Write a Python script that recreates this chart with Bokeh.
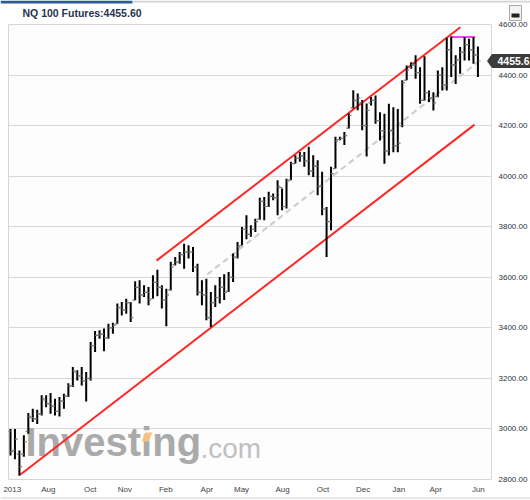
from bokeh.plotting import figure
from bokeh.models import Range1d, FixedTicker, PrintfTickFormatter, Label
from bokeh.core.properties import value
from bokeh.embed import file_html
from bokeh.resources import INLINE

# ---------------- data ----------------
title_text = "NQ 100 Futures:4455.60"
last_price = 4455.6

highs = [3000, 3000, 2915, 2975, 3063, 3080, 3076, 3133, 3133, 3142,
         3119, 3126, 3139, 3181, 3245, 3232, 3245, 3225, 3344, 3387,
         3390, 3397, 3416, 3420, 3496, 3502, 3515, 3502, 3584, 3588,
         3568, 3562, 3608, 3630, 3568, 3555, 3661, 3680, 3700, 3733,
         3727, 3720, 3654, 3588, 3594, 3542, 3568, 3601, 3612, 3621,
         3694, 3740, 3799, 3845, 3806, 3832, 3915, 3918, 3938, 3931,
         3984, 3951, 3990, 4057, 4083, 4096, 4096, 4116, 4083, 4063,
         4017, 3878, 4037, 4156, 4156, 4175, 4248, 4340, 4327, 4301,
         4287, 4313, 4319, 4253, 4247, 4286, 4273, 4266, 4379, 4438,
         4451, 4478, 4431, 4474, 4339, 4332, 4418, 4431, 4548, 4553,
         4478, 4511, 4550, 4544, 4550, 4513]
lows = [2895, 2880, 2815, 2890, 2981, 3027, 3020, 3053, 3086, 3060,
        3053, 3049, 3080, 3126, 3166, 3192, 3172, 3109, 3192, 3304,
        3357, 3307, 3357, 3377, 3416, 3449, 3456, 3423, 3509, 3496,
        3522, 3489, 3515, 3525, 3476, 3406, 3548, 3647, 3654, 3634,
        3674, 3621, 3528, 3489, 3430, 3403, 3482, 3496, 3510, 3542,
        3581, 3674, 3727, 3750, 3760, 3779, 3828, 3826, 3878, 3905,
        3845, 3865, 3872, 3984, 4050, 4057, 4037, 4004, 3997, 3925,
        3845, 3680, 3786, 4030, 4142, 4123, 4189, 4268, 4261, 4182,
        4078, 4280, 4207, 4141, 4049, 4082, 4095, 4095, 4194, 4379,
        4425, 4385, 4286, 4299, 4293, 4260, 4312, 4339, 4339, 4392,
        4365, 4405, 4458, 4458, 4445, 4392]
opens = [2990, 2915, 2900, 2900, 2990, 3045, 3040, 3060, 3115, 3100,
         3090, 3070, 3110, 3130, 3170, 3225, 3210, 3190, 3200, 3330,
         3370, 3375, 3360, 3400, 3415, 3480, 3470, 3500, 3510, 3560,
         3530, 3540, 3515, 3580, 3560, 3510, 3550, 3650, 3660, 3690,
         3700, 3700, 3640, 3540, 3530, 3440, 3500, 3520, 3560, 3545,
         3600, 3680, 3725, 3790, 3770, 3790, 3830, 3900, 3880, 3920,
         3915, 3955, 3880, 3985, 4050, 4070, 4080, 4060, 4020, 4040,
         3960, 3870, 3820, 4030, 4145, 4150, 4190, 4270, 4300, 4290,
         4200, 4290, 4300, 4220, 4180, 4100, 4180, 4120, 4200, 4380,
         4430, 4440, 4410, 4300, 4330, 4310, 4315, 4400, 4360, 4500,
         4440, 4460, 4490, 4520, 4500, 4480]
closes = [2910, 2960, 2850, 2950, 3050, 3040, 3060, 3120, 3100, 3090,
          3070, 3110, 3130, 3170, 3230, 3210, 3190, 3200, 3330, 3370,
          3375, 3360, 3400, 3410, 3480, 3470, 3500, 3440, 3560, 3530,
          3540, 3510, 3580, 3560, 3510, 3530, 3640, 3660, 3690, 3700,
          3700, 3640, 3540, 3530, 3440, 3500, 3520, 3560, 3540, 3600,
          3680, 3720, 3790, 3770, 3790, 3820, 3900, 3880, 3920, 3915,
          3960, 3880, 3980, 4050, 4070, 4080, 4060, 4020, 4040, 3960,
          3870, 3820, 4010, 4140, 4150, 4160, 4240, 4300, 4310, 4200,
          4260, 4300, 4220, 4180, 4100, 4180, 4120, 4130, 4370, 4420,
          4440, 4410, 4300, 4330, 4310, 4290, 4400, 4360, 4500, 4440,
          4460, 4490, 4520, 4500, 4480, 4455.6]

month_labels = ["2013", "Aug", "Oct", "Nov", "Feb", "Apr", "May",
                "Aug", "Oct", "Dec", "Jan", "Apr", "Jun"]
month_bars = [0.4, 8.5, 17.9, 25.7, 34.9, 44.1, 51.9,
              61.1, 70.2, 79.2, 87.2, 95.5, 105.1]
price_ticks = [2800, 3000, 3200, 3400, 3600, 3800, 4000, 4200, 4400, 4600]

upper_channel_x = [32.8, 101.05]
upper_channel_y = [3666, 4589]
lower_channel_x = [2.24, 104.25]
lower_channel_y = [2820, 4204]
mid_channel_x = [44.2, 105.1]
mid_channel_y = [3611, 4453]
resistance_x = [98.9, 104.4]
resistance_y = [4551, 4551]

# ---------------- layout constants ----------------
W, H = 530, 500
FL, FR, FT, FB = 8, 493, 24, 479          # frame edges in canvas px
X0, X1 = -0.45, 108.05
Y0, Y1 = 2800, 4600
bar_per_px = (X1 - X0) / (FR - FL)
price_per_px = (Y1 - Y0) / (FB - FT)

# ---------------- main chart ----------------
n = len(highs)
idx = list(range(n))

p = figure(width=W, height=H,
           x_range=Range1d(X0, X1), y_range=Range1d(Y0, Y1),
           y_axis_location="right", output_backend="svg", toolbar_location=None,
           title=None, min_border_left=FL, min_border_right=W - FR,
           min_border_top=FT, min_border_bottom=H - FB)
p.background_fill_color = "#fdfdfd"
p.border_fill_color = "white"
p.outline_line_color = "#d6d6d6"

p.xgrid.visible = False
p.ygrid.ticker = FixedTicker(ticks=price_ticks)
p.ygrid.grid_line_color = "#d9d9d9"

for ax in (p.xaxis[0], p.yaxis[0]):
    ax.major_label_text_font = "Liberation Sans"
    ax.major_label_text_font_size = "8px"
    ax.axis_line_color = None
    ax.major_tick_line_color = None
    ax.minor_tick_line_color = None
    ax.major_tick_out = 0
    ax.major_tick_in = 0
    ax.minor_tick_out = 0
    ax.minor_tick_in = 0

ya = p.yaxis[0]
ya.ticker = FixedTicker(ticks=price_ticks)
ya.formatter = PrintfTickFormatter(format="%.2f")
ya.major_label_text_color = "#2a3440"
ya.major_label_standoff = 7

xa = p.xaxis[0]
xa.ticker = FixedTicker(ticks=month_bars)
xa.major_label_overrides = {t: l for t, l in zip(month_bars, month_labels)}
xa.major_label_text_color = "#444444"
xa.major_label_standoff = 5

# watermark (under the data)
p.add_layout(Label(x=17, y=16, x_units="screen", y_units="screen", text="Investing",
                   text_font="Liberation Sans", text_font_style="bold",
                   text_font_size="40px", text_color="#aaaaaa", level="underlay"))
p.add_layout(Label(x=192, y=16, x_units="screen", y_units="screen", text=".com",
                   text_font="Liberation Sans", text_font_size="28px",
                   text_color="#c0c0c0", level="underlay"))

# channel lines
p.line(lower_channel_x, lower_channel_y, line_color="#ff2626", line_width=2)
p.line(upper_channel_x, upper_channel_y, line_color="#ff2626", line_width=2)
p.line(mid_channel_x, mid_channel_y, line_color="#cccccc", line_width=2, line_dash="6 4")
p.line(resistance_x, resistance_y, line_color="#ee44ee", line_width=2)

# OHLC bars
p.segment(x0=idx, y0=lows, x1=idx, y1=highs, line_color="black", line_width=2)
p.segment(x0=[i - 0.6 for i in idx], y0=opens, x1=idx, y1=opens,
          line_color="#777777", line_width=1.2)
p.segment(x0=idx, y0=closes, x1=[i + 0.6 for i in idx], y1=closes,
          line_color="#777777", line_width=1.2)

# ---------------- transparent overlay for things outside the frame ----------------
ox0 = X0 - FL * bar_per_px
ox1 = X1 + (W - FR) * bar_per_px
oy1 = Y1 + FT * price_per_px
oy0 = Y0 - (H - FB) * price_per_px
ov = figure(width=W, height=H, x_range=Range1d(ox0, ox1), y_range=Range1d(oy0, oy1),
            x_axis_location=None, y_axis_location=None, output_backend="svg",
            toolbar_location=None, title=None, min_border=0,
            min_border_left=0, min_border_right=0, min_border_top=0, min_border_bottom=0)
ov.styles = {"position": "absolute", "left": "0px", "top": "0px"}
ov.background_fill_color = None
ov.border_fill_color = None
ov.outline_line_color = None
ov.grid.visible = False


def cx(px):
    return ox0 + px * bar_per_px


def cy(py):
    return oy1 - py * price_per_px


# top tab strip
ov.quad(left=[cx(0)], right=[cx(132)], top=[cy(0)], bottom=[cy(3)],
        fill_color="#2b5d8e", line_color=None)
ov.quad(left=[cx(132)], right=[cx(530)], top=[cy(0)], bottom=[cy(2)],
        fill_color="#d4d4d4", line_color=None)
# small minimise button
ov.quad(left=[cx(509)], right=[cx(521)], top=[cy(5)], bottom=[cy(20)],
        fill_color="#f3f3f3", line_color="#a8a8a8", line_width=1)
ov.quad(left=[cx(511)], right=[cx(519)], top=[cy(13)], bottom=[cy(17)],
        fill_color="#222222", line_color=None)
# bottom border
ov.segment(x0=[cx(0)], y0=[cy(497.5)], x1=[cx(530)], y1=[cy(497.5)],
           line_color="#cfcfcf", line_width=1)

# title
ov.text(x=[cx(22)], y=[cy(12)], text=[title_text], text_font=value("Liberation Sans"),
        text_font_style="bold", text_font_size="10.5px", text_color="#1f3550",
        text_baseline="middle")

# orange accent of the logo
ov.patch(x=[cx(141), cx(145), cx(152), cx(148)], y=[cy(441), cy(432), cy(432), cy(441)],
         fill_color="#f6c27e", line_color=None)

# last price marker
hh = 7 * price_per_px
ov.patch(x=[cx(486.5), cx(491.5), cx(531), cx(531), cx(491.5)],
         y=[last_price, last_price + hh, last_price + hh, last_price - hh, last_price - hh],
         fill_color="#3b3b3b", line_color=None)
ov.text(x=[cx(497)], y=[last_price], text=[f"{last_price:.1f}"],
        text_font=value("Liberation Sans"), text_font_style="bold",
        text_font_size="10.5px", text_color="white", text_baseline="middle")

open("out.html", "w").write(file_html([p, ov], INLINE))
